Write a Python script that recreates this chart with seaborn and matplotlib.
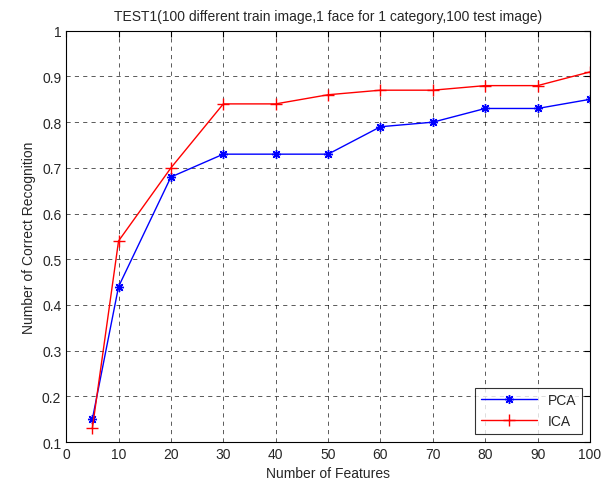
import numpy as np
import pandas as pd
import matplotlib
matplotlib.use("Agg")
import matplotlib.pyplot as plt
import seaborn as sns

# values
features = [5, 10, 20, 30, 40, 50, 60, 70, 80, 90, 100]
pca_rate = [0.15, 0.44, 0.68, 0.73, 0.73, 0.73, 0.79, 0.80, 0.83, 0.83, 0.85]
ica_rate = [0.13, 0.54, 0.70, 0.84, 0.84, 0.86, 0.87, 0.87, 0.88, 0.88, 0.91]

sns.set_style("white")
plt.rcParams["font.family"] = ["Liberation Sans", "DejaVu Sans"]

fig = plt.figure(figsize=(6.07, 4.89), dpi=100)
ax = fig.add_axes([0.109, 0.094, 0.863, 0.841])

# one call per series: '*' and '+' markers can't share a style mapping
# (8, 2, 0) = 8-spoke asterisk, like matlab's '*'
sns.lineplot(x=features, y=pca_rate, color="#0000ff", marker=(8, 2, 0),
             markersize=6.5, markeredgewidth=1, markeredgecolor="#0000ff",
             linewidth=1, label="PCA", ax=ax)
sns.lineplot(x=features, y=ica_rate, color="#ff0000", marker="+",
             markersize=8, markeredgewidth=1, markeredgecolor="#ff0000",
             linewidth=1, label="ICA", ax=ax)

ax.set_xlim(0, 100)
ax.set_ylim(0.1, 1.0)
ax.set_xticks(np.arange(0, 101, 10))
ax.set_yticks(np.round(np.arange(0.1, 1.01, 0.1), 1))
ax.set_yticklabels(["0.1", "0.2", "0.3", "0.4", "0.5", "0.6", "0.7", "0.8", "0.9", "1"])
ax.grid(True, color="black", linestyle=(0, (5, 5)), linewidth=0.6, alpha=0.75)
ax.tick_params(direction="in", length=4, labelsize=10, top=True, right=True,
               color="black")
for sp in ax.spines.values():
    sp.set_color("black")
    sp.set_linewidth(0.8)

ax.set_xlabel("Number of Features", fontsize=10)
ax.set_ylabel("Number of Correct Recognition", fontsize=10)
ax.set_title("TEST1(100 different train image,1 face for 1 category,100 test image)",
             fontsize=10, pad=8)

leg = ax.legend(loc="lower right", frameon=True, fancybox=False, fontsize=10,
                handlelength=4, borderaxespad=0.6)
leg.get_frame().set_edgecolor("black")
leg.get_frame().set_linewidth(0.8)

fig.savefig("out.png", dpi=100)
